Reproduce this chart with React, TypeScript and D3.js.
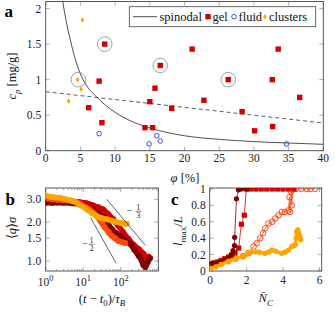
import React, { useEffect, useRef } from "react";
import * as d3 from "d3";

const W = 335;
const H = 312;
const FONT = "Liberation Serif";

// ---- panel a: state diagram
const gelPhi = [8.5, 16.5, 26.3, 7.7, 15.75, 15.0, 6.2, 8.1, 14.3, 15.4, 21.1, 33.5, 32.65, 22.8, 36.6, 18.15, 28.3, 30.1, 32.7];
const gelCp = [1.5, 1.2, 1.0, 0.98, 0.88, 0.69, 0.605, 0.394, 0.324, 0.324, 1.43, 1.43, 1.0, 0.71, 0.75, 0.597, 0.55, 0.28, 0.34];
const fluidPhi = [7.7, 14.9, 16.0, 16.5, 34.7];
const fluidCp = [0.24, 0.097, 0.21, 0.137, 0.094];
const clusterPhi = [5.3, 4.6, 5.1, 3.3];
const clusterCp = [1.84, 1.0, 0.865, 0.7];
const circledPhi = [8.5, 16.5, 26.3, 4.7];
const circledCp = [1.5, 1.2, 1.0, 1.0];
const spinPhi = [2.45, 3, 3.5, 4, 5, 6, 7.3, 8.5, 10, 12, 15, 20, 25, 30, 35, 40];
const spinCp = [2.1, 1.8, 1.58, 1.38, 1.08, 0.9, 0.76, 0.65, 0.54, 0.43, 0.32, 0.21, 0.16, 0.128, 0.108, 0.09];
const dashPhi = [0, 40];
const dashCp = [0.83, 0.39];
const phiTicks = [0, 5, 10, 15, 20, 25, 30, 35, 40];
const cpTicks = [0, 0.5, 1, 1.5, 2];

// ---- panel b: <q> sigma vs time
const maroonT = [1, 1.5, 2, 3, 5, 8, 12, 18, 25, 34, 45, 58, 75, 96, 130, 177, 230, 300, 365, 400, 450, 520, 600];
const maroonQ = [2.82, 2.82, 2.83, 2.82, 2.8, 2.74, 2.65, 2.5, 2.35, 2.2, 1.95, 1.76, 1.64, 1.56, 1.45, 1.36, 1.22, 1.1, 1.0, 0.93, 0.9, 0.98, 1.05];
const redT = [1, 1.5, 2, 3, 5, 8, 12, 18, 25, 34, 45, 63, 85, 117, 160, 215, 300, 400, 490, 550];
const redQ = [2.88, 2.9, 2.9, 2.9, 2.88, 2.85, 2.8, 2.7, 2.6, 2.5, 2.32, 2.1, 1.88, 1.66, 1.48, 1.34, 1.24, 1.14, 1.07, 1.08];
const orRedT = [1, 1.5, 2, 3, 5, 8, 12, 15, 19, 23, 30, 38, 48, 58, 70, 86, 105, 130];
const orRedQ = [3.05, 3.0, 2.98, 2.95, 2.9, 2.78, 2.6, 2.5, 2.35, 2.22, 2.0, 1.81, 1.66, 1.56, 1.5, 1.43, 1.4, 1.38];
const orangeT = [1, 1.5, 2.4, 3.5, 5.4, 8, 12.4, 17, 23, 30, 42, 60, 78, 100, 125, 144];
const orangeQ = [3.2, 3.12, 3.08, 3.0, 2.91, 2.72, 2.51, 2.35, 2.22, 2.15, 2.1, 2.04, 2.0, 1.97, 1.95, 1.94];
const halfT = [15.8, 75];
const halfQ = [2.16, 0.96];
const thirdT = [42.3, 444];
const thirdQ = [3.0, 1.33];
const qTicks = [1.0, 1.5, 2.0, 3.0];
const tTicks = [1, 10, 100, 1000];

// ---- panel c: l_max / L vs N_C
const maroonN = [0, 0.2, 0.4, 0.6, 0.8, 1.0, 1.15, 1.25, 1.33, 1.34, 1.44, 1.55, 1.71, 2.0];
const maroonL = [0.08, 0.09, 0.1, 0.11, 0.13, 0.16, 0.2, 0.25, 0.31, 0.41, 0.88, 0.99, 1.0, 1.0];
const redN = [0, 0.2, 0.4, 0.6, 0.8, 1.0, 1.2, 1.36, 1.56, 1.71, 1.87, 1.98, 2.2, 2.5, 2.8, 3.1, 3.4, 3.7, 4.0, 4.3, 4.6];
const redL = [0.09, 0.1, 0.11, 0.13, 0.15, 0.17, 0.19, 0.22, 0.28, 0.57, 0.68, 1.0, 1.0, 1.0, 1.0, 1.0, 1.0, 1.0, 1.0, 1.0, 1.0];
const orRedN = [0, 0.3, 0.6, 1.0, 1.4, 1.8, 2.1, 2.38, 2.55, 2.75, 2.9, 3.02, 3.2, 3.4, 3.57, 3.75, 3.93, 4.1, 4.3, 4.35, 4.38, 4.44, 4.48, 4.52, 4.7, 5.0, 5.3, 5.5, 5.75];
const orRedL = [0.05, 0.07, 0.09, 0.12, 0.15, 0.18, 0.22, 0.3, 0.34, 0.4, 0.46, 0.52, 0.58, 0.6, 0.64, 0.68, 0.72, 0.72, 0.74, 0.9, 0.72, 0.97, 0.8, 1.0, 1.0, 1.0, 1.0, 1.0, 1.0];
const orangeN = [0, 0.3, 0.6, 1.0, 1.4, 1.8, 2.0, 2.2, 2.48, 2.7, 3.0, 3.2, 3.39, 3.6, 3.93, 4.1, 4.3, 4.48, 4.6, 4.66, 4.72, 4.75, 4.8, 4.84, 4.9, 4.93, 4.97];
const orangeL = [0.03, 0.05, 0.08, 0.12, 0.15, 0.18, 0.2, 0.23, 0.235, 0.23, 0.215, 0.23, 0.255, 0.24, 0.215, 0.23, 0.255, 0.3, 0.31, 0.32, 0.4, 0.48, 0.5, 0.47, 0.43, 0.4, 0.38];
const nTicks = [0, 2, 4, 6];
const lTicks = [0, 0.2, 0.4, 0.6, 0.8, 1];

const C_MAROON = "#800000";
const C_RED = "#d40000";
const C_ORRED = "#ff4a10";
const C_ORANGE = "#ffa500";
const C_BLUE = "#3333ff";

type Part = { t: string; it?: boolean; sub?: boolean; sup?: boolean };

// text with italic / sub / sup pieces
function rich(g: any, parts: Part[], x: number, y: number, size: number, anchor = "middle", rotate = false) {
    const text = g
        .append("text")
        .attr("text-anchor", anchor)
        .attr("font-size", size)
        .attr("fill", "#111")
        .attr("transform", rotate ? `translate(${x},${y}) rotate(-90)` : `translate(${x},${y})`);
    let shift = 0;
    parts.forEach((p) => {
        const target = p.sub ? size * 0.28 : p.sup ? -size * 0.42 : 0;
        const ts = text.append("tspan").attr("dy", target - shift).text(p.t);
        if (p.it) ts.attr("font-style", "italic");
        if (p.sub || p.sup) ts.attr("font-size", size * 0.7);
        shift = target;
    });
    return text;
}

function frame(g: any, box: any, x: any, y: any, xt: number[], yt: number[], minorX: number[] = []) {
    const tk = g.append("g").attr("stroke", "#888").attr("stroke-width", 0.7);
    xt.forEach((v) => {
        tk.append("line").attr("x1", x(v)).attr("x2", x(v)).attr("y1", box.b).attr("y2", box.b - 4);
        tk.append("line").attr("x1", x(v)).attr("x2", x(v)).attr("y1", box.t).attr("y2", box.t + 4);
    });
    minorX.forEach((v) => {
        tk.append("line").attr("x1", x(v)).attr("x2", x(v)).attr("y1", box.b).attr("y2", box.b - 2.2);
        tk.append("line").attr("x1", x(v)).attr("x2", x(v)).attr("y1", box.t).attr("y2", box.t + 2.2);
    });
    yt.forEach((v) => {
        tk.append("line").attr("y1", y(v)).attr("y2", y(v)).attr("x1", box.l).attr("x2", box.l + 4);
        tk.append("line").attr("y1", y(v)).attr("y2", y(v)).attr("x1", box.r).attr("x2", box.r - 4);
    });
    g.append("rect")
        .attr("x", box.l)
        .attr("y", box.t)
        .attr("width", box.r - box.l)
        .attr("height", box.b - box.t)
        .attr("fill", "none")
        .attr("stroke", "#444")
        .attr("stroke-width", 0.9);
}

function clip(svg: any, id: string, box: any) {
    svg.append("defs")
        .append("clipPath")
        .attr("id", id)
        .append("rect")
        .attr("x", box.l)
        .attr("y", box.t)
        .attr("width", box.r - box.l)
        .attr("height", box.b - box.t);
    return svg.append("g").attr("clip-path", `url(#${id})`);
}

function drawA(svg: any) {
    const box = { l: 45.7, r: 323.3, t: 1.5, b: 150.7 };
    const x = d3.scaleLinear().domain([0, 40]).range([box.l, box.r]);
    const y = d3.scaleLinear().domain([0, 2.1]).range([box.b, box.t]);
    const g = svg.append("g");
    const pg = clip(svg, "clipA", box);

    const line = d3.line<number>().x((d) => x(spinPhi[d])).y((d) => y(spinCp[d])).curve(d3.curveMonotoneX);
    pg.append("path").attr("d", line(d3.range(spinPhi.length))).attr("fill", "none").attr("stroke", "#222").attr("stroke-width", 0.8);
    const dline = d3.line<number>().x((d) => x(dashPhi[d])).y((d) => y(dashCp[d]));
    pg.append("path").attr("d", dline([0, 1])).attr("fill", "none").attr("stroke", "#333").attr("stroke-width", 0.8).attr("stroke-dasharray", "4,3");

    gelPhi.forEach((p, i) => {
        pg.append("rect").attr("x", x(p) - 2.7).attr("y", y(gelCp[i]) - 2.7).attr("width", 5.4).attr("height", 5.4).attr("fill", C_RED);
    });
    fluidPhi.forEach((p, i) => {
        pg.append("circle").attr("cx", x(p)).attr("cy", y(fluidCp[i])).attr("r", 2.3).attr("fill", "none").attr("stroke", C_BLUE).attr("stroke-width", 0.9);
    });
    clusterPhi.forEach((p, i) => {
        const cx = x(p), cy = y(clusterCp[i]);
        pg.append("path").attr("d", `M${cx},${cy - 2.8}L${cx + 1.8},${cy}L${cx},${cy + 2.8}L${cx - 1.8},${cy}Z`).attr("fill", C_ORANGE);
    });
    circledPhi.forEach((p, i) => {
        pg.append("circle").attr("cx", x(p)).attr("cy", y(circledCp[i])).attr("r", 7.3).attr("fill", "none").attr("stroke", "#888").attr("stroke-width", 0.8);
    });

    frame(g, box, x, y, phiTicks, cpTicks);
    phiTicks.forEach((v) => {
        g.append("text").attr("x", x(v)).attr("y", box.b + 11.5).attr("text-anchor", "middle").attr("font-size", 11.5).attr("fill", "#222").text(v);
    });
    cpTicks.forEach((v) => {
        g.append("text").attr("x", box.l - 4.5).attr("y", y(v)).attr("dy", "0.35em").attr("text-anchor", "end").attr("font-size", 11.5).attr("fill", "#222").text(v);
    });

    // legend
    const lg = svg.append("g");
    lg.append("rect").attr("x", 129.3).attr("y", 6.7).attr("width", 186.4).attr("height", 20).attr("fill", "#fff").attr("stroke", "#444").attr("stroke-width", 0.8);
    const ly = 16.7;
    lg.append("line").attr("x1", 133).attr("x2", 157).attr("y1", ly).attr("y2", ly).attr("stroke", "#222").attr("stroke-width", 0.8);
    lg.append("text").attr("x", 159.5).attr("y", ly + 4).attr("font-size", 12.5).attr("fill", "#111").text("spinodal");
    lg.append("rect").attr("x", 208 - 2.7).attr("y", ly - 2.7).attr("width", 5.4).attr("height", 5.4).attr("fill", C_RED);
    lg.append("text").attr("x", 212.5).attr("y", ly + 4).attr("font-size", 12.5).attr("fill", "#111").text("gel");
    lg.append("circle").attr("cx", 234).attr("cy", ly).attr("r", 2.3).attr("fill", "none").attr("stroke", C_BLUE).attr("stroke-width", 0.9);
    lg.append("text").attr("x", 238.5).attr("y", ly + 4).attr("font-size", 12.5).attr("fill", "#111").text("fluid");
    lg.append("path").attr("d", `M265,${ly - 2.8}L266.8,${ly}L265,${ly + 2.8}L263.2,${ly}Z`).attr("fill", C_ORANGE);
    lg.append("text").attr("x", 269).attr("y", ly + 4).attr("font-size", 12.5).attr("fill", "#111").text("clusters");

    g.append("text").attr("x", 4.5).attr("y", 17).attr("font-size", 17).attr("font-weight", "bold").text("a");
    rich(g, [{ t: "c", it: true }, { t: "p", it: true, sub: true }, { t: " [mg/g]" }], 16, 76, 12.5, "middle", true);
    rich(g, [{ t: "φ", it: true }, { t: " [%]" }], 185, 181.5, 12.5);
}

function drawB(svg: any) {
    const box = { l: 45.7, r: 158.3, t: 188, b: 271 };
    const x = d3.scaleLog().domain([1, 1000]).range([box.l, box.r]);
    const y = d3.scaleLog().domain([0.837, 3.67]).range([box.b, box.t]);
    const g = svg.append("g");
    const pg = clip(svg, "clipB", box);

    const series = [
        { t: redT, q: redQ, c: C_RED },
        { t: maroonT, q: maroonQ, c: C_MAROON },
        { t: orRedT, q: orRedQ, c: C_ORRED },
        { t: orangeT, q: orangeQ, c: C_ORANGE },
    ];
    series.forEach((s) => {
        const ln = d3.line<number>().x((i) => x(s.t[i])).y((i) => y(s.q[i])).curve(d3.curveMonotoneX);
        pg.append("path").attr("d", ln(d3.range(s.t.length))).attr("fill", "none").attr("stroke", s.c).attr("stroke-width", 5.5).attr("stroke-linejoin", "round").attr("stroke-linecap", "round");
        s.t.forEach((t, i) => {
            pg.append("circle").attr("cx", x(t)).attr("cy", y(s.q[i])).attr("r", 3).attr("fill", s.c);
        });
    });

    [[halfT, halfQ], [thirdT, thirdQ]].forEach(([tt, qq]) => {
        pg.append("line").attr("x1", x(tt[0])).attr("y1", y(qq[0])).attr("x2", x(tt[1])).attr("y2", y(qq[1])).attr("stroke", "#222").attr("stroke-width", 0.7);
    });

    const minor: number[] = [];
    [1, 10, 100].forEach((d) => [2, 3, 4, 5, 6, 7, 8, 9].forEach((m) => minor.push(d * m)));
    frame(g, box, x, y, tTicks, qTicks, minor);
    tTicks.slice(0, 3).forEach((v, i) => {
        const t = g.append("text").attr("x", x(v)).attr("y", box.b + 15).attr("text-anchor", "middle").attr("font-size", 11.5).attr("fill", "#222");
        t.append("tspan").text("10");
        t.append("tspan").attr("dy", -5).attr("font-size", 8.5).text(String(i));
    });
    qTicks.forEach((v) => {
        g.append("text").attr("x", box.l - 4.5).attr("y", y(v)).attr("dy", "0.35em").attr("text-anchor", "end").attr("font-size", 11.5).attr("fill", "#222").text(v.toFixed(1));
    });

    // slope labels
    const frac = (mx: number, my: number, fx: number, num: string, den: string) => {
        g.append("text").attr("x", mx).attr("y", my + 3).attr("text-anchor", "middle").attr("font-size", 10).attr("fill", "#111").text("−");
        g.append("text").attr("x", fx).attr("y", my - 1.3).attr("text-anchor", "middle").attr("font-size", 7.5).attr("fill", "#111").text(num);
        g.append("line").attr("x1", fx - 2.8).attr("x2", fx + 2.8).attr("y1", my + 0.3).attr("y2", my + 0.3).attr("stroke", "#111").attr("stroke-width", 0.5);
        g.append("text").attr("x", fx).attr("y", my + 6.8).attr("text-anchor", "middle").attr("font-size", 7.5).attr("fill", "#111").text(den);
    };
    frac(85, 244, 91.5, "1", "2");
    frac(129.5, 211, 138.3, "1", "3");

    g.append("text").attr("x", 5.5).attr("y", 205).attr("font-size", 17).attr("font-weight", "bold").text("b");
    rich(g, [{ t: "⟨" }, { t: "q", it: true }, { t: "⟩" }, { t: "σ", it: true }], 16, 228, 12.5, "middle", true);
    rich(
        g,
        [{ t: "(" }, { t: "t", it: true }, { t: " − " }, { t: "t", it: true }, { t: "0", sub: true }, { t: ")/" }, { t: "τ", it: true }, { t: "B", it: true, sub: true }],
        102,
        302.5,
        12.5
    );
}

function drawC(svg: any) {
    const box = { l: 209.7, r: 321.7, t: 188, b: 271 };
    const x = d3.scaleLinear().domain([-0.03, 6.12]).range([box.l, box.r]);
    const y = d3.scaleLinear().domain([0, 1.012]).range([box.b, box.t]);
    const g = svg.append("g");
    const pg = clip(svg, "clipC", box);

    const ln = (xs: number[], ys: number[]) =>
        d3.line<number>().x((i) => x(xs[i])).y((i) => y(ys[i]))(d3.range(xs.length));

    // open circles, orange-red
    pg.append("path").attr("d", ln(orRedN, orRedL)).attr("fill", "none").attr("stroke", C_ORRED).attr("stroke-width", 0.8);
    orRedN.forEach((n, i) => {
        pg.append("circle").attr("cx", x(n)).attr("cy", y(orRedL[i])).attr("r", 2.8).attr("fill", "none").attr("stroke", C_ORRED).attr("stroke-width", 1);
    });
    // squares, red
    pg.append("path").attr("d", ln(redN, redL)).attr("fill", "none").attr("stroke", C_RED).attr("stroke-width", 0.8);
    redN.forEach((n, i) => {
        pg.append("rect").attr("x", x(n) - 2.6).attr("y", y(redL[i]) - 2.6).attr("width", 5.2).attr("height", 5.2).attr("fill", C_RED);
    });
    // filled circles, maroon
    pg.append("path").attr("d", ln(maroonN, maroonL)).attr("fill", "none").attr("stroke", C_MAROON).attr("stroke-width", 0.8);
    maroonN.forEach((n, i) => {
        pg.append("circle").attr("cx", x(n)).attr("cy", y(maroonL[i])).attr("r", 2.6).attr("fill", C_MAROON);
    });
    // filled circles, orange
    pg.append("path").attr("d", ln(orangeN, orangeL)).attr("fill", "none").attr("stroke", C_ORANGE).attr("stroke-width", 3.5).attr("stroke-linejoin", "round");
    orangeN.forEach((n, i) => {
        pg.append("circle").attr("cx", x(n)).attr("cy", y(orangeL[i])).attr("r", 2.7).attr("fill", C_ORANGE);
    });

    frame(g, box, x, y, nTicks, lTicks);
    nTicks.forEach((v) => {
        g.append("text").attr("x", x(v)).attr("y", box.b + 12.5).attr("text-anchor", "middle").attr("font-size", 11.5).attr("fill", "#222").text(v);
    });
    lTicks.forEach((v) => {
        g.append("text").attr("x", box.l - 4).attr("y", y(v)).attr("dy", "0.35em").attr("text-anchor", "end").attr("font-size", 11.5).attr("fill", "#222").text(v);
    });

    g.append("text").attr("x", 171).attr("y", 205).attr("font-size", 17).attr("font-weight", "bold").text("c");
    rich(g, [{ t: "l", it: true }, { t: "max", sub: true }, { t: "/" }, { t: "L", it: true }], 182, 231, 13, "middle", true);
    rich(g, [{ t: "N̄", it: true }, { t: "C", it: true, sub: true }], 265.7, 302, 12.5);
}

export default function App() {
    const ref = useRef<SVGSVGElement>(null);

    useEffect(() => {
        const svg = d3.select(ref.current);
        svg.selectAll("*").remove();
        drawA(svg);
        drawB(svg);
        drawC(svg);
    }, []);

    return (
        <svg
            ref={ref}
            width={W}
            height={H}
            style={{ position: "absolute", left: 0, top: 0, background: "#fff", fontFamily: FONT }}
        />
    );
}
